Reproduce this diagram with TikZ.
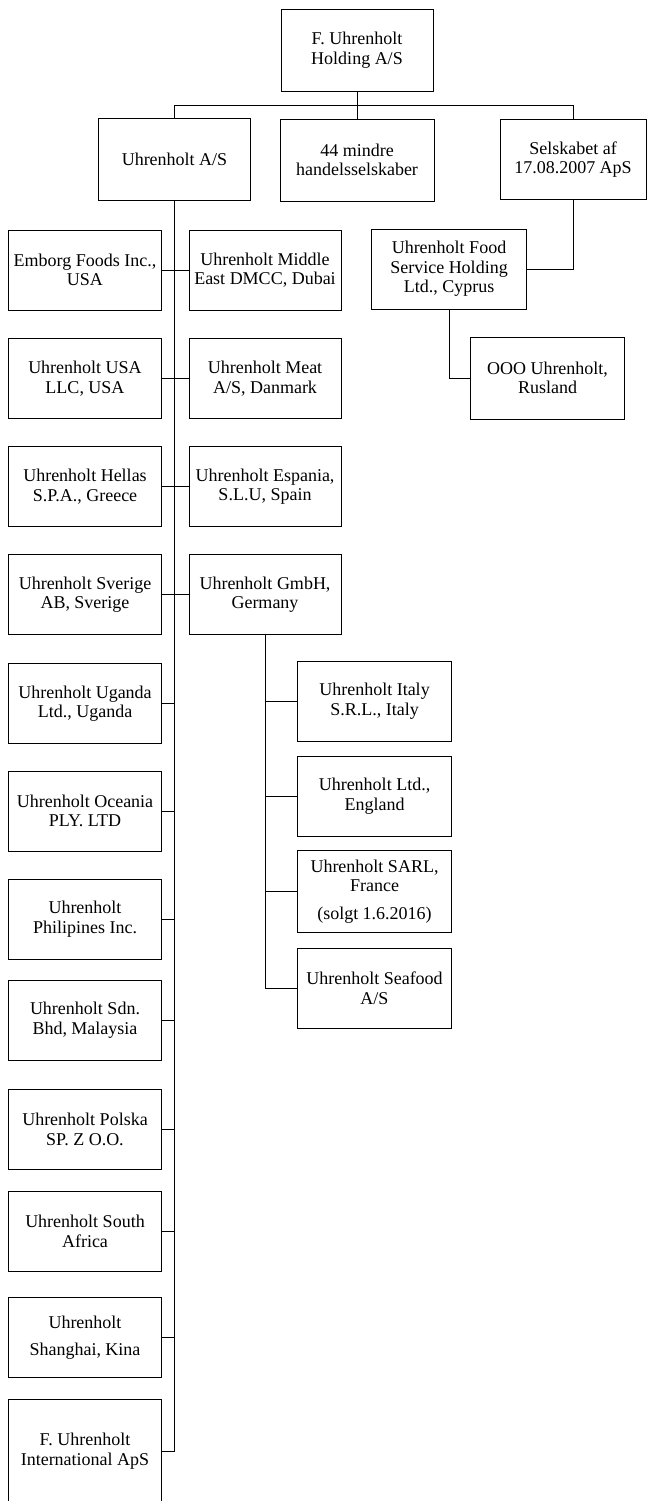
\documentclass[tikz,border=0pt]{standalone}
\usepackage{fontspec}
\setmainfont{Liberation Serif}
\begin{document}
\begin{tikzpicture}[x=1pt,y=-1pt,
  box/.style={draw, line width=0.8pt, minimum width=153pt, minimum height=80pt,
    align=center, inner sep=2pt, font=\fontsize{18}{19.5}\selectfont},
  link/.style={line width=0.8pt}]
\useasboundingbox (0,0) rectangle (647,1501);
\clip (0,0) rectangle (647,1501);
\fill[white] (0,0) rectangle (647,1501);
% top level
\node[box, minimum width=152pt, minimum height=82pt] (top) at (357,50) {F. Uhrenholt\\Holding A/S};
\node[box, minimum width=152pt, minimum height=82pt] (uas) at (174.5,159.5) {Uhrenholt A/S};
\node[box, minimum width=154pt, minimum height=82pt] (mid44) at (357,160) {44 mindre\\handelsselskaber};
\node[box, minimum width=146pt] (sel) at (573,159.5) {Selskabet af\\17.08.2007 ApS};
\node[box, minimum width=155pt] (food) at (449,269) {Uhrenholt Food\\Service Holding\\Ltd., Cyprus};
\node[box, minimum width=154pt, minimum height=82pt] (ooo) at (547.5,378) {OOO Uhrenholt,\\Rusland};
% left column
\node[box] (emb) at (85,270) {Emborg Foods Inc.,\\USA};
\node[box] (usa) at (85,378.5) {Uhrenholt USA\\LLC, USA};
\node[box] (hel) at (85,486.5) {Uhrenholt Hellas\\S.P.A., Greece};
\node[box] (sve) at (85,594.5) {Uhrenholt Sverige\\AB, Sverige};
\node[box] (uga) at (85,703.5) {Uhrenholt Uganda\\Ltd., Uganda};
\node[box] (oce) at (85,811) {Uhrenholt Oceania\\PLY. LTD};
\node[box] (phi) at (85,919) {Uhrenholt\\Philipines Inc.};
\node[box] (sdn) at (85,1020) {Uhrenholt Sdn.\\Bhd, Malaysia};
\node[box] (pol) at (85,1129.5) {Uhrenholt Polska\\SP. Z O.O.};
\node[box] (saf) at (85,1231.5) {Uhrenholt South\\Africa};
\node[box] (sha) at (85,1337.5) {Uhrenholt\\[7pt]Shanghai, Kina};
\node[box, minimum height=104pt] (intl) at (85,1451) {F. Uhrenholt\\International ApS};
% middle column
\node[box, minimum width=152pt] (me) at (265,270) {Uhrenholt Middle\\East DMCC, Dubai};
\node[box, minimum width=152pt] (meat) at (265,378.5) {Uhrenholt Meat\\A/S, Danmark};
\node[box, minimum width=152pt] (esp) at (265,486.5) {Uhrenholt Espania,\\S.L.U, Spain};
\node[box, minimum width=152pt] (gmbh) at (265,594.5) {Uhrenholt GmbH,\\Germany};
% Germany subsidiaries
\node[box, minimum width=154pt] (ita) at (374.5,701) {Uhrenholt Italy\\S.R.L., Italy};
\node[box, minimum width=154pt] (eng) at (374.5,796) {Uhrenholt Ltd.,\\England};
\node[box, minimum width=154pt, minimum height=82pt] (fra) at (374.5,891.5) {Uhrenholt SARL,\\France\\[8pt](solgt 1.6.2016)};
\node[box, minimum width=154pt] (sea) at (374.5,988) {Uhrenholt Seafood\\A/S};
% connectors: top level
\coordinate (bus) at (0,105.5);
\draw[link] (top.south) -- (mid44.north);
\draw[link] (uas.north) -- (uas.north |- bus) -- (sel.north |- bus) -- (sel.north);
\draw[link] (sel.south) |- (food.east);
\draw[link] (food.south) |- (ooo.west);
% trunk of Uhrenholt A/S
\draw[link] (uas.south) -- (uas.south |- intl.east) -- (intl.east);
\draw[link] (emb.east) -- (me.west);
\draw[link] (usa.east) -- (meat.west);
\draw[link] (hel.east) -- (esp.west);
\draw[link] (sve.east) -- (gmbh.west);
\foreach \n in {uga,oce,phi,sdn,pol,saf,sha}
  \draw[link] (\n.east) -- (\n.east -| uas.south);
% Germany branch
\draw[link] (gmbh.south) -- (gmbh.south |- sea.west) -- (sea.west);
\foreach \n in {ita,eng,fra}
  \draw[link] (\n.west) -- (\n.west -| gmbh.south);
\end{tikzpicture}
\end{document}
